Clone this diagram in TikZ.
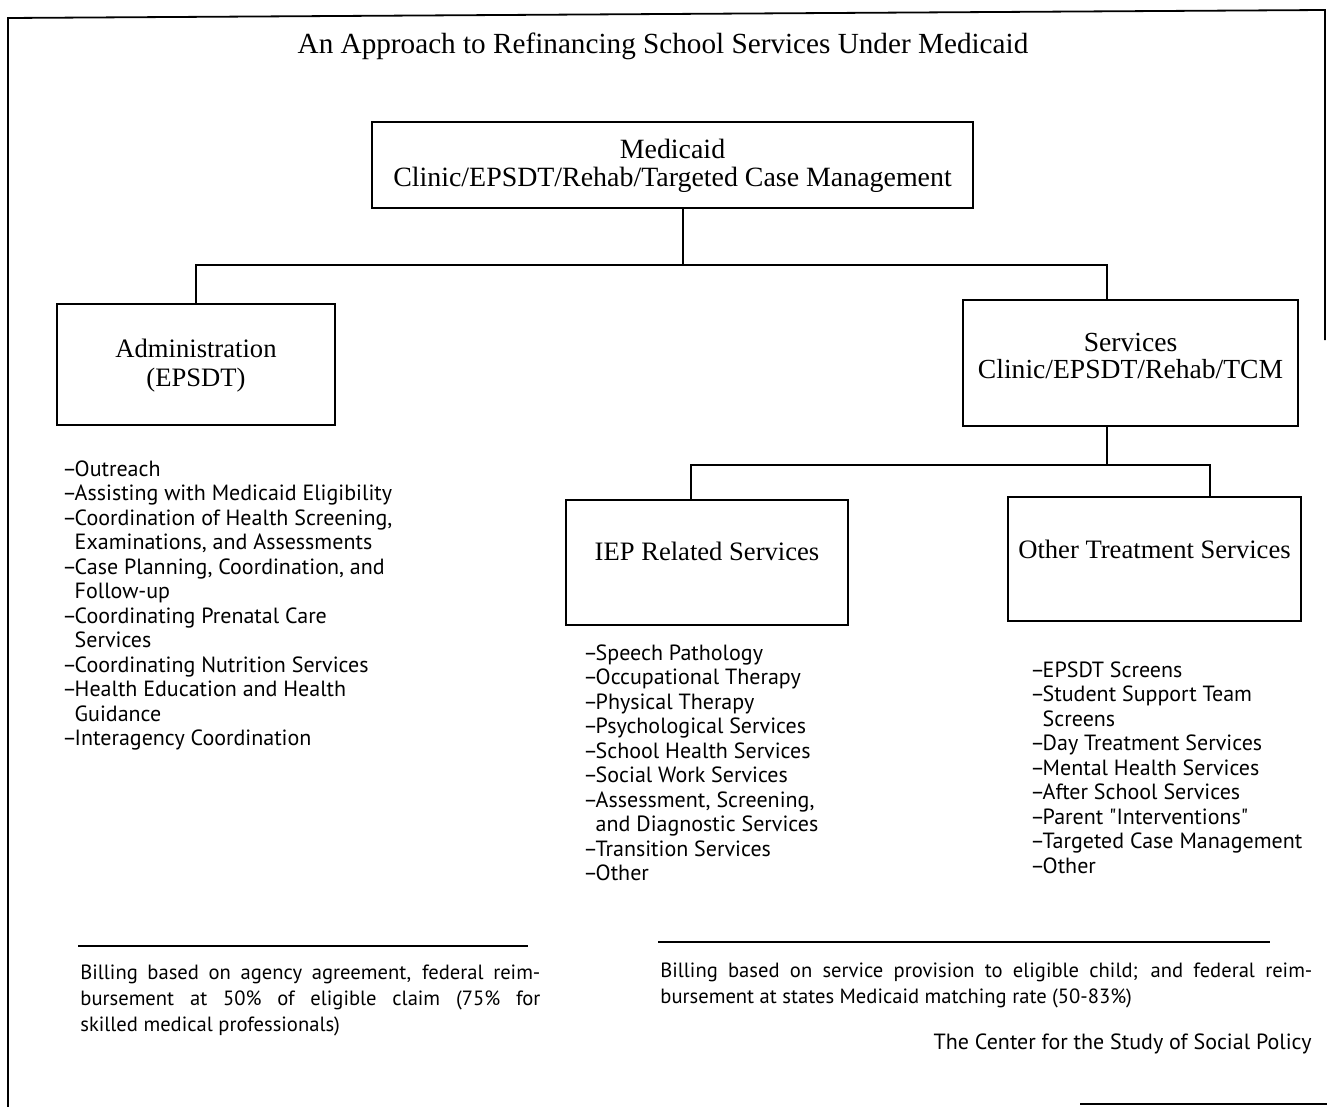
\documentclass[tikz,border=0pt]{standalone}
\usepackage{fontspec}
\setmainfont{Liberation Serif}
\newfontfamily\lstfont{PT Sans}
\newcommand\lstdash{–\kern-0.1em}
\begin{document}
\begin{tikzpicture}[x=0.5pt,y=-0.5pt,
  box/.style={draw, line width=0.9pt, inner sep=0pt},
  boxtext/.style={inner sep=0pt, align=center, font=\fontsize{13.3}{14.5}\selectfont},
  conn/.style={line width=0.9pt},
  lst/.style={anchor=north west, inner sep=0pt, align=left, font=\lstfont\fontsize{11}{12.25}\selectfont},
  bill/.style={anchor=north west, inner sep=0pt, align=left, font=\lstfont\fontsize{10.3}{13}\selectfont}]
\useasboundingbox (0,0) rectangle (1327,1107);
% frame
\draw[conn] (8,1107) -- (8,18) -- (1325,10) -- (1325,340);
\draw[conn] (1080,1104) -- (1327,1104);
% title
\node[anchor=base, inner sep=0pt, font=\fontsize{14.6}{16}\selectfont] (title) at (663,54) {An Approach to Refinancing School Services Under Medicaid};
% boxes
\node[box, minimum width=300.5pt, minimum height=43pt] (med) at (672.5,165) {};
\node[boxtext, font=\fontsize{13.95}{14}\selectfont] (medt) at ([yshift=-0.5pt]med.center) {Medicaid\\Clinic/EPSDT/Rehab/Targeted Case Management};
\node[box, minimum width=139pt, minimum height=60.5pt] (adm) at (196,364.5) {};
\node[boxtext] (admt) at ([yshift=-0.5pt]adm.center) {Administration\\(EPSDT)};
\node[box, minimum width=167.5pt, minimum height=63pt] (srv) at (1130.5,363) {};
\node[boxtext, font=\fontsize{13.8}{13.5}\selectfont] (srvt) at ([yshift=3.5pt]srv.center) {Services\\Clinic/EPSDT/Rehab/TCM};
\node[box, minimum width=141pt, minimum height=62.5pt] (iep) at (707,562.5) {};
\node[boxtext] (iept) at ([yshift=5.5pt]iep.center) {IEP Related Services};
\node[box, minimum width=146.5pt, minimum height=62pt] (oth) at (1154.5,559) {};
\node[boxtext] (otht) at ([yshift=5pt]oth.center) {Other Treatment Services};
% connectors
\coordinate (j1) at (683,265);
\coordinate (j2) at (1107,465);
\draw[conn] (med.south -| j1) -- (j1);
\draw[conn] (adm.north) |- (j1);
\draw[conn] (j1) -| ([xshift=-11.75pt]srv.north);
\draw[conn] ([xshift=-11.75pt]srv.south) -- (j2);
\draw[conn] ([xshift=-8pt]iep.north) |- (j2);
\draw[conn] (j2) -| ([xshift=27.75pt]oth.north);
% lists
\node[lst] (admlist) at (62,460) {\lstdash Outreach\\
\lstdash Assisting with Medicaid Eligibility\\
\lstdash Coordination of Health Screening,\\
\phantom{\lstdash}Examinations, and Assessments\\
\lstdash Case Planning, Coordination, and\\
\phantom{\lstdash}Follow-up\\
\lstdash Coordinating Prenatal Care\\
\phantom{\lstdash}Services\\
\lstdash Coordinating Nutrition Services\\
\lstdash Health Education and Health\\
\phantom{\lstdash}Guidance\\
\lstdash Interagency Coordination};
\node[lst] (ieplist) at (583,644) {\lstdash Speech Pathology\\
\lstdash Occupational Therapy\\
\lstdash Physical Therapy\\
\lstdash Psychological Services\\
\lstdash School Health Services\\
\lstdash Social Work Services\\
\lstdash Assessment, Screening,\\
\phantom{\lstdash}and Diagnostic Services\\
\lstdash Transition Services\\
\lstdash Other};
\node[lst] (othlist) at (1030,661) {\lstdash EPSDT Screens\\
\lstdash Student Support Team\\
\phantom{\lstdash}Screens\\
\lstdash Day Treatment Services\\
\lstdash Mental Health Services\\
\lstdash After School Services\\
\lstdash Parent "Interventions"\\
\lstdash Targeted Case Management\\
\lstdash Other};
% bottom
\draw[conn] (78,946) -- (528,946);
\draw[conn] (658,942) -- (1270,942);
\node[bill] (billl) at (80,965) {\makebox[230pt][s]{Billing based on agency agreement, federal reim-}\\
\makebox[230pt][s]{bursement at 50\% of eligible claim (75\% for}\\
skilled medical professionals)};
\node[bill] (billr) at (660,963) {\makebox[326pt][s]{Billing based on service provision to eligible child; and federal reim-}\\
bursement at states Medicaid matching rate (50-83\%)};
\node[anchor=base east, inner sep=0pt, font=\lstfont\fontsize{11}{13}\selectfont] (credit) at (1312,1049) {The Center for the Study of Social Policy};
\end{tikzpicture}
\end{document}
